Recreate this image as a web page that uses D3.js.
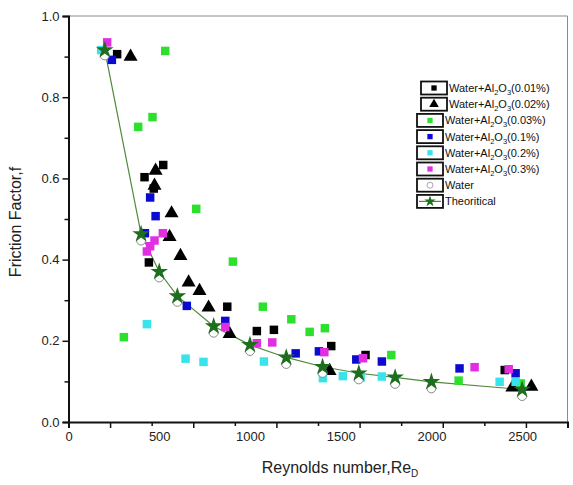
<!DOCTYPE html>
<html>
<head>
<meta charset="utf-8">
<script src="https://cdn.jsdelivr.net/npm/d3@7"></script>
<style>
  body { margin: 0; background: #fff; }
  svg { display: block; font-family: "Liberation Sans", Arial, sans-serif; }
</style>
</head>
<body>
<div id="chart"></div>
<script>
// Reynolds number / friction factor readings for each sample
const theoRe = [200, 400, 500, 600, 800, 1000, 1200, 1400, 1600, 1800, 2000, 2500];
const theoF  = [0.916, 0.463, 0.370, 0.310, 0.236, 0.190, 0.159, 0.136, 0.120, 0.110, 0.099, 0.080];

const waterRe = [200, 400, 500, 600, 800, 1000, 1200, 1400, 1600, 1800, 2000, 2500];
const waterF  = [0.903, 0.447, 0.356, 0.296, 0.220, 0.175, 0.143, 0.121, 0.105, 0.094, 0.083, 0.064];

const p001Re = [268, 419, 522, 470, 443, 875, 1038, 1132, 1448, 1637, 2404];
const p001F  = [0.906, 0.603, 0.633, 0.575, 0.393, 0.284, 0.224, 0.227, 0.187, 0.165, 0.128];

const p002Re = [342, 480, 474, 568, 557, 617, 662, 722, 772, 888, 1439, 2446, 2551];
const p002F  = [0.900, 0.619, 0.582, 0.514, 0.456, 0.409, 0.344, 0.323, 0.282, 0.217, 0.126, 0.085, 0.087];

const p003Re = [533, 384, 463, 704, 906, 305, 1071, 1228, 1329, 1413, 1779, 2150, 2492];
const p003F  = [0.914, 0.727, 0.751, 0.525, 0.395, 0.209, 0.284, 0.253, 0.222, 0.231, 0.165, 0.102, 0.095];

const p01Re = [239, 450, 480, 421, 652, 864, 1252, 1380, 1586, 1727, 2155, 2464];
const p01F  = [0.892, 0.553, 0.507, 0.465, 0.286, 0.249, 0.169, 0.174, 0.154, 0.149, 0.132, 0.120];

const p02Re = [180, 432, 645, 744, 1077, 1402, 1512, 1610, 1727, 2376, 2464];
const p02F  = [0.916, 0.241, 0.156, 0.148, 0.149, 0.108, 0.113, 0.110, 0.112, 0.099, 0.099];

const p03Re = [213, 520, 474, 450, 432, 864, 1038, 1123, 1410, 1623, 2238, 2426];
const p03F  = [0.935, 0.465, 0.447, 0.433, 0.420, 0.234, 0.194, 0.196, 0.172, 0.157, 0.135, 0.130];

const xLabels = [0, 500, 1000, 1500, 2000, 2500];
const yTicks = [0, 0.1, 0.2, 0.3, 0.4, 0.5, 0.6, 0.7, 0.8, 0.9, 1.0];

const W = 573, H = 485;
const pLeft = 68.5, pTop = 16, pRight = 567.5, pBottom = 422;

const svg = d3.select("#chart").append("svg").attr("width", W).attr("height", H);

const x = d3.scaleLinear().domain([0, 2750]).range([pLeft, pRight]);
const y = d3.scaleLinear().domain([0, 1]).range([pBottom, pTop]);

// frame: thin grey top/right
svg.append("line").attr("x1", pLeft).attr("x2", pRight).attr("y1", pTop).attr("y2", pTop)
  .attr("stroke", "#8a8a8a").attr("stroke-width", 1);
svg.append("line").attr("x1", pRight).attr("x2", pRight).attr("y1", pTop).attr("y2", pBottom)
  .attr("stroke", "#8a8a8a").attr("stroke-width", 1);

// x axis: tick marks (12 intervals) and labels separately
const xTickVals = d3.range(13).map(i => i * 2750 / 12);
const xAxisG = svg.append("g").attr("transform", `translate(0,${pBottom})`)
  .call(d3.axisBottom(x).tickValues(xTickVals).tickFormat("").tickSizeOuter(0).tickSize(6));
xAxisG.selectAll(".tick line").attr("y2", (d, i) => i % 2 ? 6 : 4).attr("stroke-width", 1.5).attr("stroke", "#111");
xAxisG.select(".domain").attr("stroke-width", 2).attr("stroke", "#111");

svg.append("g").attr("transform", `translate(0,${pBottom})`)
  .call(d3.axisBottom(x).tickValues(xLabels).tickSize(0).tickPadding(10).tickFormat(d3.format("d")))
  .call(g => g.select(".domain").remove())
  .selectAll("text").attr("font-size", 13).attr("fill", "#222")
  .attr("font-family", "Liberation Sans, Arial, sans-serif");

// y axis
const yAxisG = svg.append("g").attr("transform", `translate(${pLeft},0)`)
  .call(d3.axisLeft(y).tickValues(yTicks).tickSizeOuter(0).tickSize(6)
    .tickFormat(d => (Math.round(d * 10) % 2 === 0) ? d3.format(".1f")(d) : ""));
yAxisG.select(".domain").attr("stroke-width", 2).attr("stroke", "#111");
yAxisG.selectAll(".tick line").attr("x2", (d) => (Math.round(d * 10) % 2 === 0) ? -6 : -4)
  .attr("stroke-width", 1.5).attr("stroke", "#111");
yAxisG.selectAll("text").attr("font-size", 13).attr("fill", "#222")
  .attr("font-family", "Liberation Sans, Arial, sans-serif").attr("x", -9);

// axis titles
svg.append("text").attr("transform", "translate(21,222) rotate(-90)")
  .attr("text-anchor", "middle").attr("font-size", 16).attr("fill", "#222")
  .text("Friction Factor,f");
const xt = svg.append("text").attr("x", 340).attr("y", 473)
  .attr("text-anchor", "middle").attr("font-size", 16).attr("fill", "#222");
xt.append("tspan").text("Reynolds number,Re");
xt.append("tspan").attr("font-size", 10).attr("dy", 4).text("D");

// theoretical line
const pts = (re, f) => re.map((r, i) => [r, f[i]]);
svg.append("path")
  .datum(pts(theoRe, theoF))
  .attr("d", d3.line().x(d => x(d[0])).y(d => y(d[1])))
  .attr("fill", "none").attr("stroke", "#4f8a3c").attr("stroke-width", 1.2);

const sq = d3.symbol().type(d3.symbolSquare).size(72)();
const tri = d3.symbol().type(d3.symbolTriangle).size(85)();
const star = d3.symbol().type(d3.symbolStar).size(95)();

const series = [
  { name: "(0.01%)", re: p001Re, f: p001F, shape: sq, fill: "#000", stroke: "none" },
  { name: "(0.02%)", re: p002Re, f: p002F, shape: tri, fill: "#000", stroke: "none" },
  { name: "(0.03%)", re: p003Re, f: p003F, shape: sq, fill: "#2ee02e", stroke: "none" },
  { name: "(0.1%)", re: p01Re, f: p01F, shape: sq, fill: "#0a0ad0", stroke: "none" },
  { name: "(0.2%)", re: p02Re, f: p02F, shape: sq, fill: "#38e4ea", stroke: "none" },
  { name: "(0.3%)", re: p03Re, f: p03F, shape: sq, fill: "#e02ee0", stroke: "none" },
  { name: "Water", re: waterRe, f: waterF, shape: "circle", fill: "#fff", stroke: "#8a8a8a" },
  { name: "Theoritical", re: theoRe, f: theoF, shape: star, fill: "#1d6e1d", stroke: "none" }
];

function drawMark(g, s, cx, cy) {
  if (s.shape === "circle") {
    g.append("circle").attr("cx", cx).attr("cy", cy).attr("r", 4.5)
      .attr("fill", s.fill).attr("stroke", s.stroke).attr("stroke-width", 1);
  } else {
    g.append("path").attr("d", s.shape).attr("transform", `translate(${cx},${cy})`)
      .attr("fill", s.fill).attr("stroke", s.stroke);
  }
}

const marks = svg.append("g");
series.forEach(s => {
  s.re.forEach((r, i) => drawMark(marks, s, x(r), y(s.f[i])));
});

// legend
const leg = svg.append("g");
series.forEach((s, i) => {
  const ly = 88 + i * 16.2;
  const bx = i < 2 ? 421 : 417;
  leg.append("rect").attr("x", bx).attr("y", ly - 6.5).attr("width", 26).attr("height", 13)
    .attr("fill", "#fff").attr("stroke", "#111").attr("stroke-width", 1.8);
  if (s.name === "Theoritical") {
    leg.append("line").attr("x1", bx + 2).attr("x2", bx + 24).attr("y1", ly).attr("y2", ly)
      .attr("stroke", "#4f8a3c").attr("stroke-width", 1.2);
  }
  const ls = Object.assign({}, s);
  if (s.shape === sq) ls.shape = d3.symbol().type(d3.symbolSquare).size(28)();
  if (s.shape === tri) ls.shape = d3.symbol().type(d3.symbolTriangle).size(40)();
  if (s.shape === star) ls.shape = d3.symbol().type(d3.symbolStar).size(40)();
  if (s.shape === "circle") {
    leg.append("circle").attr("cx", bx + 13).attr("cy", ly).attr("r", 3)
      .attr("fill", "#fff").attr("stroke", "#9a8aa8").attr("stroke-width", 0.8);
  } else {
    drawMark(leg, ls, bx + 13, ly);
  }
  const t = leg.append("text").attr("x", bx + 28).attr("y", ly + 4)
    .attr("font-size", 11).attr("fill", "#111");
  if (s.name.startsWith("(")) {
    t.append("tspan").text("Water+Al");
    t.append("tspan").attr("font-size", 7.5).attr("dy", 3).text("2");
    t.append("tspan").attr("dy", -3).text("O");
    t.append("tspan").attr("font-size", 7.5).attr("dy", 3).text("3");
    t.append("tspan").attr("dy", -3).text(s.name);
  } else {
    t.text(s.name);
  }
});
</script>
</body>
</html>
